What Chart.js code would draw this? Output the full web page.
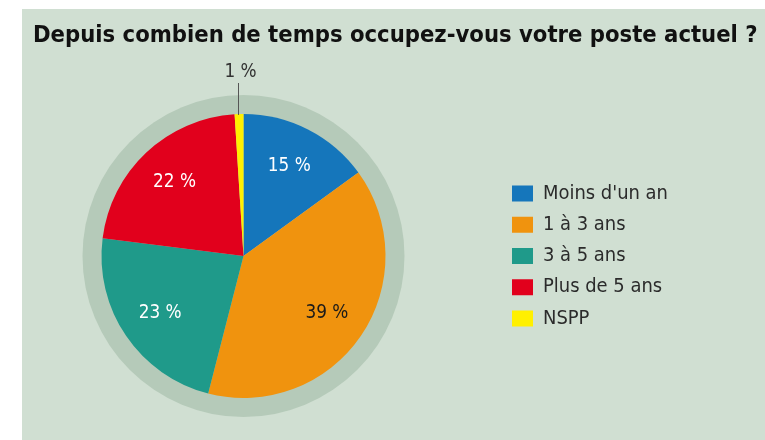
<!DOCTYPE html>
<html><head><meta charset="utf-8">
<script src="https://cdn.jsdelivr.net/npm/chart.js@4"></script>
<style>html,body{margin:0;padding:0;background:#fff;}canvas{display:block;}</style>
</head><body>
<canvas id="c" width="765" height="440"></canvas>
<script>
// ---- data ----
const chartTitle = "Depuis combien de temps occupez-vous votre poste actuel ?";
const categories = ["Moins d'un an", "1 à 3 ans", "3 à 5 ans", "Plus de 5 ans", "NSPP"];
const values = [15, 39, 23, 22, 1];
const valueLabels = ["15 %", "39 %", "23 %", "22 %", "1 %"];
const colors = ["#1576bb", "#f0930e", "#1f9a8a", "#e1001c", "#fff000"];
const labelColors = ["#ffffff", "#1a1a1a", "#ffffff", "#ffffff", "#333333"];

// ---- style ----
const NARROW = "'Liberation Sans Narrow', 'DejaVu Sans Condensed', 'DejaVu Sans', sans-serif";
const PANEL = '#d0dfd2';
const RING = '#b5cab9';
const mctx = document.createElement('canvas').getContext('2d');
function fitSize(text, weight, target) {
  mctx.font = weight + ' 100px ' + NARROW;
  return 100 * target / mctx.measureText(text).width;
}
function textW(text, weight, size) {
  mctx.font = weight + ' ' + size + 'px ' + NARROW;
  return mctx.measureText(text).width;
}
const titleSize = fitSize(chartTitle, 'bold', 725);
const legendSize = fitSize(categories[0], 'normal', 125);
const valueSize = fitSize(valueLabels[0], 'normal', 43);

// title placement (baseline ~44, chart area top 72)
const titleMid = 44 - 0.35 * titleSize;
const titlePadTop = titleMid - 0.6 * titleSize;
const titlePadBottom = 72 - titlePadTop - 1.2 * titleSize;

// legend geometry
const ROW = 31.2, BOXW = 21, BOXH = 16;
const legPad = ROW - Math.max(legendSize, BOXH);
const maxText = Math.max(...categories.map(c => textW(c, 'normal', legendSize)));
const legendW = legPad + BOXW + legendSize / 2 + maxText + 10;
const legendLeft = 512 - legPad;
const chartRight = 2 * 243.5 - 33;
const innerGap = legendLeft - chartRight;
const outerGap = 765 - legendLeft - legendW;

function spacer(w, weight) {
  return {
    position: 'right', weight: weight, fullSize: false,
    options: {display: false},
    left: 0, top: 0, right: 0, bottom: 0, width: 0, height: 0,
    isHorizontal() { return false; },
    update(maxW, maxH) { this.width = Math.max(w, 0); this.height = maxH; },
    draw() {}
  };
}

const panelPlugin = {
  id: 'panel',
  beforeInit(chart) {
    Chart.layouts.addBox(chart, spacer(innerGap, 500));
    Chart.layouts.addBox(chart, spacer(outerGap, 1500));
  },
  beforeDraw(chart) {
    const ctx = chart.ctx;
    ctx.save();
    ctx.fillStyle = '#ffffff';
    ctx.fillRect(0, 0, chart.width, chart.height);
    ctx.fillStyle = PANEL;
    ctx.fillRect(22, 9, chart.width - 22, chart.height - 9);
    ctx.restore();
  }
};

const sliceLabels = {
  id: 'sliceLabels',
  beforeDatasetsDraw(chart) {
    const arc = chart.getDatasetMeta(0).data[0];
    const p = arc.getProps(['x', 'y', 'outerRadius'], true);
    const ctx = chart.ctx;
    ctx.save();
    ctx.fillStyle = RING;
    ctx.beginPath();
    ctx.arc(p.x, p.y, p.outerRadius + 19, 0, Math.PI * 2);
    ctx.fill();
    ctx.restore();
  },
  afterDatasetsDraw(chart) {
    const ctx = chart.ctx;
    const meta = chart.getDatasetMeta(0);
    ctx.save();
    ctx.font = 'normal ' + valueSize + 'px ' + NARROW;
    ctx.textAlign = 'center';
    ctx.textBaseline = 'middle';
    meta.data.forEach((arc, i) => {
      const p = arc.getProps(['x', 'y', 'startAngle', 'endAngle', 'outerRadius'], true);
      const mid = (p.startAngle + p.endAngle) / 2;
      ctx.fillStyle = labelColors[i];
      if (values[i] >= 5) {
        const r = p.outerRadius * 0.71;
        ctx.fillText(valueLabels[i], p.x + Math.cos(mid) * r, p.y + Math.sin(mid) * r);
      } else {
        const lx = Math.round(p.x + Math.cos(mid) * p.outerRadius) - 0.5;
        const top = p.y - p.outerRadius;
        ctx.strokeStyle = '#555';
        ctx.lineWidth = 1;
        ctx.beginPath();
        ctx.moveTo(lx, top + 1);
        ctx.lineTo(lx, top - 31);
        ctx.stroke();
        ctx.fillText(valueLabels[i], lx + 2, top - 42);
      }
    });
    ctx.restore();
  }
};

new Chart(document.getElementById('c'), {
  type: 'pie',
  data: {
    labels: categories,
    datasets: [{
      data: values,
      backgroundColor: colors,
      borderWidth: 0
    }]
  },
  options: {
    responsive: false,
    animation: false,
    events: [],
    radius: 142,
    layout: {padding: {left: 33, right: 0, top: 0, bottom: 0}},
    plugins: {
      tooltip: {enabled: false},
      title: {
        display: true,
        text: chartTitle,
        align: 'start',
        color: '#111111',
        font: {family: NARROW, size: titleSize, weight: 'bold', lineHeight: 1.2},
        padding: {top: titlePadTop, bottom: titlePadBottom}
      },
      legend: {
        position: 'right',
        align: 'center',
        fullSize: false,
        labels: {
          boxWidth: BOXW,
          boxHeight: BOXH,
          padding: legPad,
          color: '#2b2b2b',
          font: {family: NARROW, size: legendSize, weight: 'normal'}
        }
      }
    }
  },
  plugins: [panelPlugin, sliceLabels]
});
</script>
</body></html>
